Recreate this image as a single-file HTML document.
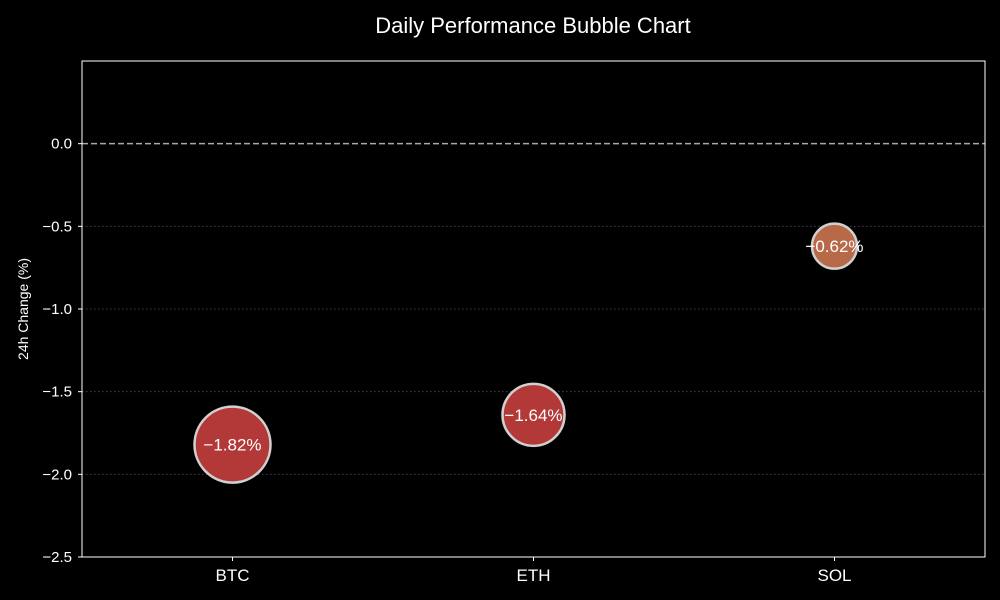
<!DOCTYPE html>
<html><head><meta charset="utf-8"><style>
html,body{margin:0;padding:0;background:#000;}
svg{display:block;font-family:"Liberation Sans",sans-serif;}
</style></head><body>
<svg id="chart" width="1000" height="600">
<rect width="1000" height="600" fill="#000"/>
<text x="533" y="33" fill="#fff" font-size="22" text-anchor="middle">Daily Performance Bubble Chart</text>
<g id="grid"></g>
<g id="marks"></g>
<rect x="82" y="61" width="903" height="496" fill="none" stroke="#fff" stroke-width="1"/>
<g id="axes"></g>
<text transform="translate(28,309) rotate(-90)" fill="#fff" font-size="14" text-anchor="middle">24h Change (%)</text>
</svg>
<script>
const categories = ["BTC","ETH","SOL"];
const changes = [-1.82,-1.64,-0.62];
const bubbleSizes = [38,31,22.5];
const colors = ["#b33838","#b33838","#b86a48"];
const yTicks = [0.0,-0.5,-1.0,-1.5,-2.0,-2.5];
const yTickLabels = ["0.0","\u22120.5","\u22121.0","\u22121.5","\u22122.0","\u22122.5"];
const pointLabels = ["\u22121.82%","\u22121.64%","\u22120.62%"];

const L=82,R=985,T=61,B=557,ymin=-2.5,ymax=0.5;
const x=i=>L+(i+0.5)*(R-L)/categories.length;
const y=v=>B-(v-ymin)/(ymax-ymin)*(B-T);
const NS="http://www.w3.org/2000/svg";
function mk(tag,attrs,parent){const e=document.createElementNS(NS,tag);for(const k in attrs)e.setAttribute(k,attrs[k]);parent.appendChild(e);return e;}
const grid=document.getElementById('grid'),marks=document.getElementById('marks'),axes=document.getElementById('axes');
yTicks.forEach((v,i)=>{
  if(v!==0&&v!==ymin){const g=mk('line',{x1:L,x2:R,y1:y(v),y2:y(v),stroke:'#444','stroke-dasharray':'1.5,2.5','stroke-width':1},grid);
  
  }
  const t=mk('line',{x1:L-4,x2:L,y1:y(v),y2:y(v),stroke:'#fff'},axes);
  
  
  const lb=mk('text',{x:L-10,y:y(v)+5,fill:'#fff','font-size':15,'text-anchor':'end'},axes);
  lb.textContent=yTickLabels[i];
  
  
});
const zl=mk('line',{x1:L,x2:R,y1:y(0),y2:y(0),stroke:'#aaa','stroke-dasharray':'6,3','stroke-width':1.5},grid);


categories.forEach((c,i)=>{
  const t=mk('line',{x1:x(i),x2:x(i),y1:B,y2:B+4,stroke:'#fff'},axes);
  
  
  const lb=mk('text',{x:x(i),y:B+24,fill:'#fff','font-size':17,'text-anchor':'middle'},axes);
  lb.textContent=c;
  
  
  const b=mk('circle',{cx:x(i),cy:y(changes[i]),r:bubbleSizes[i],fill:colors[i],stroke:'#d0d0d0','stroke-width':2.5},marks);
  
  
  const pl=mk('text',{x:x(i),y:y(changes[i])+6,fill:'#fff','font-size':17,'text-anchor':'middle'},marks);
  pl.textContent=pointLabels[i];
  
  
});
</script>
</body></html>
